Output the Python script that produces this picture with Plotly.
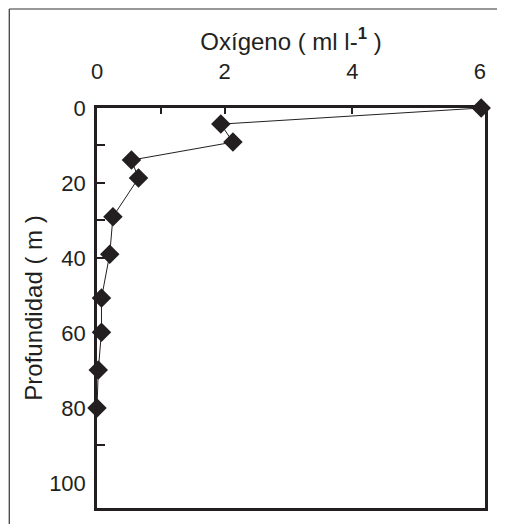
import plotly.graph_objects as go

# Data
oxygen = [6.02, 1.94, 2.13, 0.54, 0.65, 0.25, 0.20, 0.07, 0.07, 0.02, 0.0]
depth = [0, 4.3, 9.1, 13.9, 18.7, 29, 39, 50.7, 59.8, 69.9, 80]

x_tick_vals = [0, 2, 4, 6]
x_tick_text = ["0", "2", "4", "6"]
y_tick_vals = [0, 20, 40, 60, 80, 100]
y_tick_text = ["0", "20", "40", "60", "80", "100"]
y_minor_vals = [10, 20, 30, 40, 50, 60, 70, 80, 90]

INK = "#231f20"
FONT = "Liberation Sans, Arial, sans-serif"

fig = go.Figure()
fig.add_trace(go.Scatter(
    x=oxygen, y=depth, mode="lines+markers",
    line=dict(color=INK, width=1),
    marker=dict(symbol="diamond", size=15, color=INK),
    cliponaxis=False, showlegend=False,
))

fig.update_layout(
    width=489, height=516,
    margin=dict(l=89, r=9, t=100, b=16),
    paper_bgcolor="white", plot_bgcolor="white",
    font=dict(family=FONT, size=22, color=INK),
    xaxis=dict(
        side="top", range=[0, 6.08],
        tickvals=x_tick_vals, ticktext=x_tick_text,
        ticks="inside", ticklen=6, tickwidth=1.5, tickcolor=INK,
        minor=dict(tickvals=[1], ticks="inside", ticklen=6, tickwidth=1.5, tickcolor=INK),
        ticklabelstandoff=17,
        showline=True, linewidth=2.5, linecolor=INK, mirror=True,
        showgrid=False, zeroline=False,
        title=dict(text="Oxígeno ( ml l-<b><sup>1</sup></b> )", standoff=3,
                   font=dict(size=24, color=INK)),
    ),
    yaxis=dict(
        range=[106.7, 0],
        tickvals=y_tick_vals, ticktext=y_tick_text,
        ticks="",
        minor=dict(tickvals=y_minor_vals, ticks="inside", ticklen=8, tickwidth=1.5, tickcolor=INK),
        ticklabelstandoff=4,
        showline=True, linewidth=2.5, linecolor=INK, mirror=True,
        showgrid=False, zeroline=False,
        title=dict(text="Profundidad ( m )", standoff=0,
                   font=dict(size=24, color=INK)),
    ),
    shapes=[
        dict(type="line", xref="paper", yref="paper",
             x0=-0.2261, y0=1.2475, x1=-0.2261, y1=-0.2,
             line=dict(color="#333333", width=1.2)),
        dict(type="line", xref="paper", yref="paper",
             x0=-0.2261, y0=1.2475, x1=1.2, y1=1.2475,
             line=dict(color="#333333", width=1.2)),
    ],
)

fig.write_html("out.html")
